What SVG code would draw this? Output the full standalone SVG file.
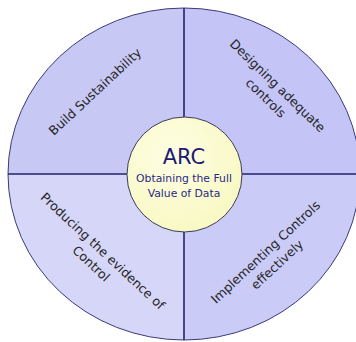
<svg xmlns="http://www.w3.org/2000/svg" width="356" height="342" viewBox="0 0 356 342">
<style>
.q{stroke:none}
.qt{font-family:"DejaVu Sans",Verdana,sans-serif;font-size:12.6px;fill:#262626;text-anchor:middle}
.ct{font-family:"DejaVu Sans",Verdana,sans-serif;fill:#2a2a80;text-anchor:middle}
.div{stroke:#22226e;stroke-width:1.6}
</style>
<defs>
<radialGradient id="yg" cx="0.4" cy="0.35" r="0.7">
<stop offset="0" stop-color="#fefee4"/>
<stop offset="1" stop-color="#f8f8c2"/>
</radialGradient>
</defs>
<rect width="356" height="342" fill="#ffffff"/>
<g id="quadrant-build">
<path class="q" d="M184,174 L8,174 A176,166 0 0 1 184,8 Z" fill="#c8c8f5"/>
<text class="qt" transform="translate(95,91.5) rotate(-43)" y="4.5">Build Sustainability</text>
</g>
<g id="quadrant-designing">
<path class="q" d="M184,174 L184,8 A176,166 0 0 1 360,174 Z" fill="#c4c4f6"/>
<text class="qt" transform="translate(271.75,91.75) rotate(44)"><tspan x="0" y="-4">Designing adequate</tspan><tspan x="0" y="13">controls</tspan></text>
</g>
<g id="quadrant-implementing">
<path class="q" d="M184,174 L360,174 A176,166 0 0 1 184,340 Z" fill="#cbcbf8"/>
<text class="qt" transform="translate(271.25,258.25) rotate(-43)"><tspan x="0" y="-4">Implementing Controls</tspan><tspan x="0" y="13">effectively</tspan></text>
</g>
<g id="quadrant-producing">
<path class="q" d="M184,174 L184,340 A176,166 0 0 1 8,174 Z" fill="#d6d6f8"/>
<text class="qt" transform="translate(97,257.3) rotate(43)"><tspan x="0" y="-4">Producing the evidence of</tspan><tspan x="0" y="13">Control</tspan></text>
</g>
<g id="connectors">
<ellipse cx="184" cy="174" rx="176" ry="166" fill="none" stroke="#3a3a7a" stroke-width="1"/>
<line class="div" x1="8" y1="174" x2="356" y2="174"/>
<line class="div" x1="184" y1="8" x2="184" y2="340"/>
</g>
<g id="center-arc">
<circle cx="184.5" cy="174.5" r="57.5" fill="url(#yg)" stroke="#3a3a5a" stroke-width="1"/>
<text class="ct" x="184" y="164" font-size="21" fill="#1c1c72" style="fill:#1c1c72">ARC</text>
<text class="ct" x="184" y="182" font-size="10.8">Obtaining the Full</text>
<text class="ct" x="184" y="196.5" font-size="10.8">Value of Data</text>
</g>
</svg>
